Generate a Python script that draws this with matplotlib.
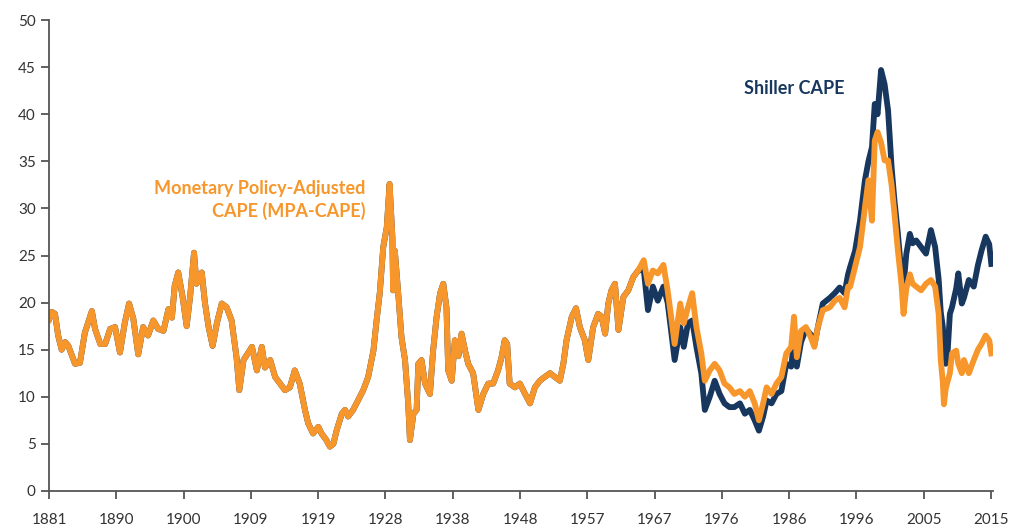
import matplotlib
matplotlib.use("Agg")
import matplotlib.pyplot as plt

# shared history (both measures coincide before the mid-1960s)
years_early = [1881.0, 1881.4, 1881.85, 1882.3, 1882.8, 1883.3, 1883.75, 1884.2, 1884.7, 1885.4,
               1886.1, 1887.1, 1887.55, 1888.3, 1889.0, 1889.7, 1890.4, 1891.1, 1891.8, 1892.4,
               1893.0, 1893.7, 1894.4, 1895.1, 1895.85, 1896.55, 1897.3, 1898.0, 1898.5, 1898.9,
               1899.4, 1900.0, 1900.6, 1901.1, 1901.65, 1902.0, 1902.75, 1903.2, 1903.7, 1904.3,
               1904.9, 1905.6, 1906.3, 1907.0, 1907.7, 1908.1, 1908.7, 1909.4, 1909.9, 1910.6,
               1911.3, 1911.75, 1912.5, 1913.2, 1913.9, 1914.6, 1915.3, 1916.0, 1916.7, 1917.45,
               1917.9, 1918.6, 1919.35, 1919.8, 1920.5, 1921.0, 1921.5, 1921.95, 1922.7, 1923.15,
               1923.6, 1924.3, 1925.0, 1925.75, 1926.45, 1927.2, 1927.65, 1928.1, 1928.6, 1929.1,
               1929.5, 1929.9, 1930.0, 1930.25, 1930.7, 1931.2, 1931.7, 1932.15, 1932.4, 1932.9,
               1933.35, 1933.6, 1934.05, 1934.55, 1935.25, 1935.7, 1936.2, 1936.7, 1937.15, 1937.6,
               1937.85, 1938.35, 1938.8, 1939.3, 1939.75, 1940.25, 1940.7, 1941.4, 1942.15, 1942.85,
               1943.55, 1944.25, 1944.95, 1945.45, 1945.9, 1946.25, 1946.6, 1947.35, 1948.05, 1948.8,
               1949.5, 1950.2, 1950.9, 1951.6, 1952.35, 1953.05, 1953.75, 1954.25, 1954.7, 1955.45,
               1956.05, 1956.6, 1957.3, 1957.8, 1958.5, 1959.2, 1959.7, 1960.2, 1960.65, 1961.1,
               1961.6, 1962.1, 1962.8, 1963.5, 1964.2, 1964.9]
cape_early = [18.2, 19.0, 18.8, 16.5, 15.0, 15.8, 15.4, 14.5, 13.5, 13.6,
              16.8, 19.1, 17.2, 15.6, 15.6, 17.2, 17.4, 14.7, 17.9, 19.9,
              18.3, 14.5, 17.4, 16.5, 18.1, 17.2, 17.0, 19.3, 18.4, 21.8,
              23.2, 20.7, 17.5, 20.7, 25.3, 22.0, 23.2, 20.0, 17.5, 15.4,
              17.8, 19.9, 19.5, 18.1, 14.2, 10.7, 13.9, 14.7, 15.3, 12.8,
              15.3, 13.1, 13.9, 12.1, 11.4, 10.7, 11.0, 12.8, 11.4, 8.6,
              7.2, 6.1, 6.8, 6.1, 5.4, 4.7, 5.0, 6.4, 8.2, 8.6,
              7.9, 8.6, 9.6, 10.7, 12.1, 14.9, 18.1, 21.0, 25.9, 28.0,
              32.6, 27.0, 21.3, 25.5, 21.3, 16.3, 13.9, 9.3, 5.4, 8.2,
              8.6, 13.5, 13.9, 11.4, 10.3, 14.9, 18.5, 21.0, 22.0, 19.5,
              12.8, 11.7, 16.0, 14.3, 16.7, 14.9, 13.5, 12.5, 8.6, 10.3,
              11.4, 11.4, 12.8, 14.2, 16.0, 15.6, 11.4, 11.0, 11.4, 10.3,
              9.3, 11.0, 11.7, 12.1, 12.5, 12.1, 11.7, 13.5, 16.0, 18.5,
              19.4, 17.4, 16.0, 13.9, 17.4, 18.8, 18.5, 16.7, 19.9, 21.3,
              22.0, 17.1, 20.6, 21.3, 22.7, 23.4]

# after the mid-1960s the two measures diverge
years_late = [1965.7, 1966.3, 1967.0, 1967.7, 1968.5, 1969.1, 1969.6, 1970.1, 1970.9, 1971.4,
              1972.0, 1972.6, 1973.2, 1973.9, 1974.4, 1975.1, 1975.8, 1976.5, 1977.2, 1977.9,
              1978.6, 1979.4, 1980.1, 1980.8, 1981.5, 1982.1, 1982.7, 1983.2, 1983.9, 1984.6,
              1985.3, 1986.0, 1986.7, 1987.1, 1987.5, 1988.1, 1988.8, 1989.5, 1990.0, 1990.5,
              1991.2, 1992.2, 1992.9, 1993.6, 1994.3, 1994.8, 1995.1, 1995.8, 1996.5, 1997.2,
              1997.7, 1998.2, 1998.6, 1999.0, 1999.5, 2000.0, 2000.5, 2001.0, 2001.4, 2001.9,
              2002.4, 2002.7, 2003.1, 2003.6, 2004.0, 2004.5, 2005.2, 2005.9, 2006.6, 2007.2,
              2007.7, 2008.0, 2008.3, 2008.45, 2008.7, 2009.0, 2009.3, 2009.6, 2010.2, 2010.5,
              2011.0, 2011.3, 2012.0, 2012.7, 2013.3, 2013.8, 2014.4, 2014.9, 2015.2]
shiller_late = [23.5, 19.2, 21.7, 20.2, 21.7, 20.0, 17.0, 13.9, 17.4, 15.3,
                17.8, 18.1, 15.3, 12.5, 8.6, 10.0, 11.7, 10.3, 9.3, 8.9,
                8.9, 9.3, 8.2, 8.6, 7.5, 6.4, 7.9, 9.6, 9.3, 10.3,
                10.6, 13.5, 13.2, 16.0, 13.2, 15.8, 17.2, 16.6, 15.5, 17.4,
                19.9, 20.5, 21.0, 21.6, 21.0, 23.0, 23.8, 25.5, 28.7, 33.0,
                35.0, 36.5, 41.1, 40.0, 44.7, 43.2, 40.4, 34.4, 30.9, 27.3,
                23.1, 21.7, 25.2, 27.3, 26.3, 26.6, 25.9, 25.2, 27.7, 25.9,
                22.5, 19.0, 17.4, 15.5, 13.5, 15.0, 18.8, 19.5, 21.5, 23.1,
                19.9, 20.5, 22.4, 21.7, 24.0, 25.5, 27.0, 26.2, 24.1]
mpa_late = [24.5, 22.0, 23.4, 23.1, 24.0, 21.3, 18.5, 15.6, 19.9, 17.8,
            19.5, 21.0, 17.4, 14.6, 11.7, 12.8, 13.5, 12.8, 11.4, 11.0,
            10.3, 10.6, 10.0, 10.6, 9.3, 7.5, 9.3, 11.0, 10.3, 11.4,
            12.1, 14.6, 15.3, 18.5, 14.2, 17.0, 17.4, 16.3, 15.3, 17.4,
            19.2, 19.5, 20.2, 20.5, 19.5, 21.7, 21.7, 23.8, 25.9, 30.1,
            33.0, 28.7, 37.2, 38.1, 37.0, 35.1, 35.1, 32.5, 29.5, 25.5,
            22.0, 18.8, 21.5, 23.0, 22.0, 21.7, 21.3, 22.0, 22.4, 21.7,
            18.8, 13.9, 11.5, 9.2, 10.8, 11.7, 12.5, 14.6, 14.9, 13.5,
            12.5, 13.9, 12.5, 13.9, 15.0, 15.6, 16.5, 16.0, 14.6]

tick_labels = ["1881", "1890", "1900", "1909", "1919", "1928", "1938", "1948",
               "1957", "1967", "1976", "1986", "1996", "2005", "2015"]

navy = "#17375E"
orange = "#F7962B"

plt.rcParams["font.family"] = ["Lato", "DejaVu Sans"]

fig = plt.figure(figsize=(10.09, 5.29), dpi=100)
ax = fig.add_axes([0.0486, 0.072, 0.9356, 0.89])

ax.plot(years_early + years_late, cape_early + shiller_late, color=navy, lw=4.2,
        solid_joinstyle="round")
ax.plot(years_early + years_late, cape_early + mpa_late, color=orange, lw=4.2,
        solid_joinstyle="round")

ax.set_ylim(0, 50)
ax.set_yticks(range(0, 51, 5))
ax.set_xlim(1881.0, 2015.45)
# excel-style category ticks every 115 months
ax.set_xticks([1881 + k * 115 / 12 for k in range(len(tick_labels))])
ax.set_xticklabels(tick_labels)

for s in ["top", "right"]:
    ax.spines[s].set_visible(False)
for s in ["left", "bottom"]:
    ax.spines[s].set_color("#555555")
    ax.spines[s].set_linewidth(1.3)
ax.tick_params(axis="both", colors="#555555", labelcolor="#333333", labelsize=11,
               length=6, width=1.3)
ax.tick_params(axis="x", pad=10)

ax.text(1987.2, 42.7, "Shiller CAPE", color=navy, fontsize=13, fontweight="bold",
        ha="center", va="center")
ax.text(1926.1, 30.9, "Monetary Policy-Adjusted\nCAPE (MPA-CAPE)", color=orange,
        fontsize=13, fontweight="bold", ha="right", va="center", linespacing=1.3)

fig.savefig("out.png", dpi=100)
